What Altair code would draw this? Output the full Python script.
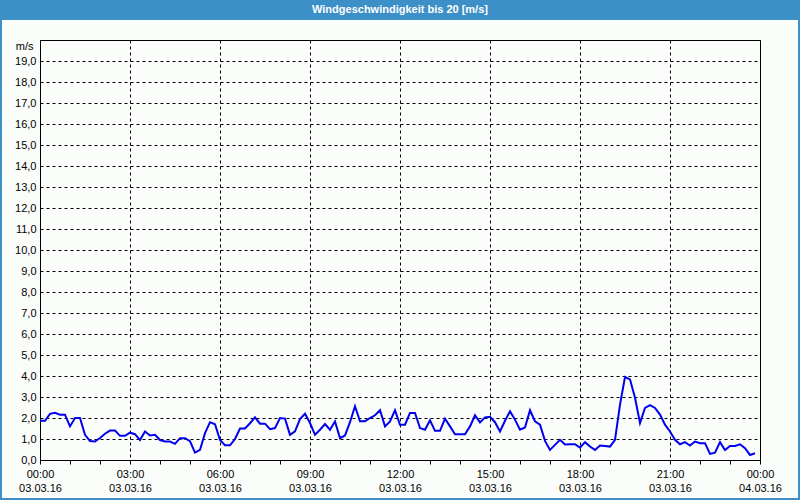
import altair as alt
import pandas as pd

# Wind speed (m/s), 10-minute samples from 03.03.16 00:00 to 23:50
wind = [
    1.87, 1.87, 2.20, 2.25, 2.16, 2.16, 1.60, 2.00, 2.00, 1.20,
    0.90, 0.88, 1.05, 1.25, 1.40, 1.40, 1.15, 1.15, 1.30, 1.23,
    0.95, 1.36, 1.17, 1.20, 0.95, 0.88, 0.88, 0.77, 1.04, 1.04,
    0.90, 0.35, 0.48, 1.28, 1.80, 1.70, 0.95, 0.70, 0.70, 1.00,
    1.50, 1.50, 1.75, 2.03, 1.73, 1.73, 1.47, 1.52, 2.00, 1.97,
    1.20, 1.36, 1.95, 2.20, 1.76, 1.20, 1.44, 1.71, 1.44, 1.84,
    1.04, 1.17, 1.80, 2.56, 1.84, 1.84, 2.00, 2.13, 2.37, 1.60,
    1.84, 2.37, 1.68, 1.68, 2.24, 2.24, 1.52, 1.44, 1.89, 1.39,
    1.39, 1.97, 1.60, 1.23, 1.23, 1.23, 1.60, 2.13, 1.79, 2.03,
    2.06, 1.80, 1.36, 1.87, 2.32, 1.92, 1.44, 1.55, 2.37, 1.84,
    1.68, 0.91, 0.48, 0.72, 0.96, 0.74, 0.75, 0.75, 0.59, 0.85,
    0.64, 0.48, 0.69, 0.67, 0.64, 0.96, 2.64, 3.95, 3.84, 2.96,
    1.76, 2.48, 2.61, 2.48, 2.16, 1.68, 1.36, 0.96, 0.75, 0.85,
    0.69, 0.88, 0.80, 0.80, 0.29, 0.35, 0.85, 0.48, 0.67, 0.67,
    0.75, 0.56, 0.24, 0.32,
]
times = pd.date_range("2016-03-03 00:00", periods=len(wind), freq="10min")
df = pd.DataFrame({"time": times, "speed": wind})

title_text = "Windgeschwindigkeit bis 20 [m/s]"
y_unit = "m/s"
y_ticks = list(range(20))
x_ticks = [alt.DateTime(year=2016, month=3, date=3, hours=h) for h in range(24)] + [
    alt.DateTime(year=2016, month=3, date=4, hours=0)
]
x_domain = [alt.DateTime(year=2016, month=3, date=3, hours=0),
            alt.DateTime(year=2016, month=3, date=4, hours=0)]

FONT = "Liberation Sans"
BLUE = "#3d8fc7"

x_enc = alt.X(
    "time:T",
    scale=alt.Scale(domain=x_domain, nice=False),
    axis=alt.Axis(
        values=x_ticks,
        title=None,
        domain=False,
        tickSize=4,
        tickColor="black",
        labelExpr="hours(datum.value) % 3 == 0 ? [timeFormat(datum.value, '%H:%M'), timeFormat(datum.value, '%d.%m.%y')] : ''",
        labelFont=FONT,
        labelFontSize=11,
        labelColor="black",
        labelPadding=4,
        labelLineHeight=14,
        labelOverlap=False,
        labelFlush=False,
        grid=True,
        gridColor="black",
        gridDash=[3, 3],
        gridOpacity={"condition": {"test": "hours(datum.value) % 3 == 0", "value": 1}, "value": 0},
    ),
)
y_enc = alt.Y(
    "speed:Q",
    scale=alt.Scale(domain=[0, 20], nice=False),
    axis=alt.Axis(
        values=y_ticks,
        title=y_unit,
        titleAngle=0,
        titleX=-7,
        titleY=6,
        titleAlign="right",
        titleBaseline="middle",
        titleFont=FONT,
        titleFontSize=11,
        titleFontWeight="normal",
        titleColor="black",
        domain=False,
        ticks=False,
        labelPadding=4,
        labelExpr="replace(format(datum.value, '.1f'), '.', ',')",
        labelFont=FONT,
        labelFontSize=11,
        labelColor="black",
        grid=True,
        gridColor="black",
        gridDash=[3, 3],
    ),
)

line = alt.Chart(df).mark_line(color="#0000ee", strokeWidth=2).encode(x=x_enc, y=y_enc)

deco = pd.DataFrame({"label": [title_text]})
bar = alt.Chart(deco).mark_rect(color=BLUE).encode(
    x=alt.value(-40), x2=alt.value(760), y=alt.value(-40), y2=alt.value(-20)
)
frame = alt.Chart(deco).mark_rect(fillOpacity=0, stroke=BLUE, strokeWidth=2).encode(
    x=alt.value(-39), x2=alt.value(759), y=alt.value(-39), y2=alt.value(459)
)
title = alt.Chart(deco).mark_text(
    color="white", font=FONT, fontSize=11, fontWeight="bold", align="center", baseline="middle"
).encode(x=alt.value(360), y=alt.value(-30), text="label:N")

chart = (
    alt.layer(line, bar, frame, title)
    .properties(
        width=720,
        height=420,
        autosize="none",
        padding={"left": 40, "top": 40, "right": 40, "bottom": 40},
        background="#fbfdfb",
    )
    .configure_view(stroke="black", strokeWidth=1, fill="#fbfdfb")
)

chart.save("out.html", embed_options={"renderer": "svg", "actions": False})
